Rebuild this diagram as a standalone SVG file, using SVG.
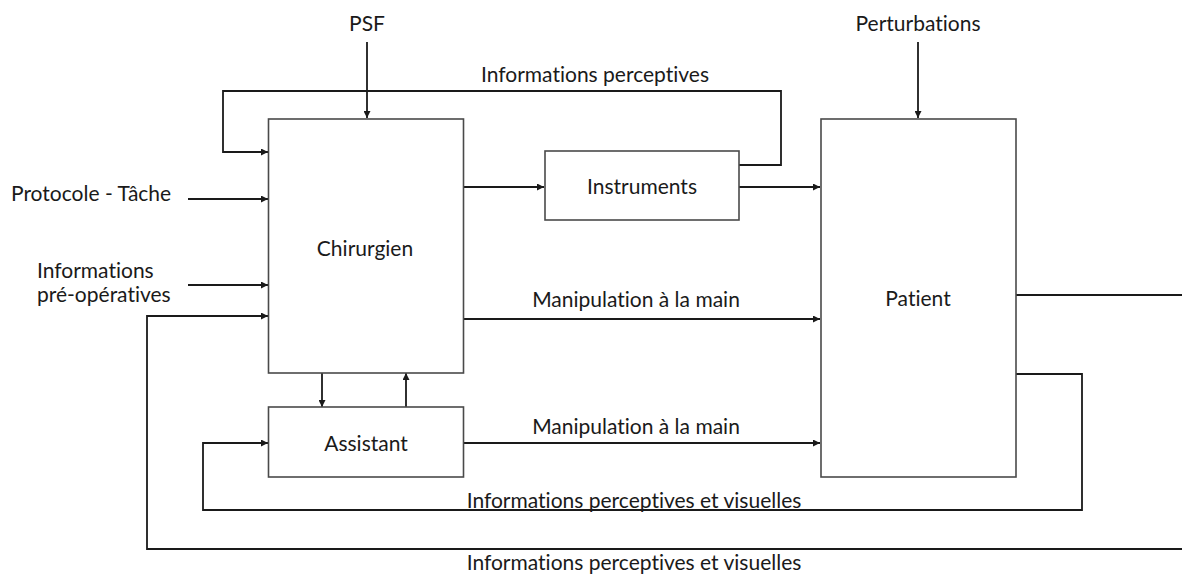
<svg xmlns="http://www.w3.org/2000/svg" width="1182" height="576" viewBox="0 0 1182 576">
  <style>
    .box { fill: #ffffff; stroke: #4a4a4a; stroke-width: 1.6; }
    .ln { fill: none; stroke: #1a1a1a; stroke-width: 1.8; }
    text { font-family: Lato, "Open Sans", sans-serif; font-size: 21px; fill: #1a1a1a; font-variant-ligatures: none; }
    .c { text-anchor: middle; }
  </style>
  <defs>
    <marker id="arr" viewBox="0 0 10 10" refX="10" refY="5" markerWidth="8" markerHeight="7" orient="auto" markerUnits="userSpaceOnUse">
      <path d="M0,0 L10,5 L0,10 Z" fill="#1a1a1a"/>
    </marker>
  </defs>

  <rect width="1182" height="576" fill="#ffffff"/>

  <g id="connectors">
    <!-- external inputs -->
    <line class="ln" x1="367" y1="42" x2="367" y2="118" marker-end="url(#arr)"/>
    <line class="ln" x1="918" y1="42" x2="918" y2="118" marker-end="url(#arr)"/>
    <line class="ln" x1="188" y1="199" x2="268" y2="199" marker-end="url(#arr)"/>
    <line class="ln" x1="188" y1="285" x2="268" y2="285" marker-end="url(#arr)"/>
    <!-- perceptive feedback from instruments -->
    <polyline class="ln" points="739,165 781,165 781,91 223,91 223,152 268,152" marker-end="url(#arr)"/>
    <!-- surgeon to instruments to patient -->
    <line class="ln" x1="463" y1="187" x2="544" y2="187" marker-end="url(#arr)"/>
    <line class="ln" x1="739" y1="187" x2="820" y2="187" marker-end="url(#arr)"/>
    <!-- manual manipulation -->
    <line class="ln" x1="463" y1="319" x2="820" y2="319" marker-end="url(#arr)"/>
    <line class="ln" x1="463" y1="443" x2="820" y2="443" marker-end="url(#arr)"/>
    <!-- surgeon / assistant exchange -->
    <line class="ln" x1="322" y1="373" x2="322" y2="407" marker-end="url(#arr)"/>
    <line class="ln" x1="406" y1="407" x2="406" y2="373" marker-end="url(#arr)"/>
    <!-- patient feedback loops -->
    <polyline class="ln" points="1016,374 1082,374 1082,510 203,510 203,443 268,443" marker-end="url(#arr)"/>
    <line class="ln" x1="1016" y1="295" x2="1182" y2="295"/>
    <polyline class="ln" points="1182,549 147,549 147,316 268,316" marker-end="url(#arr)"/>
  </g>

  <g id="chirurgien">
    <rect class="box" x="268.5" y="119" width="195" height="254"/>
    <text class="c" x="365" y="256">Chirurgien</text>
  </g>
  <g id="instruments">
    <rect class="box" x="545" y="151" width="194" height="69"/>
    <text class="c" x="642" y="194">Instruments</text>
  </g>
  <g id="assistant">
    <rect class="box" x="268.5" y="407" width="195" height="70"/>
    <text class="c" x="366" y="451">Assistant</text>
  </g>
  <g id="patient">
    <rect class="box" x="821" y="119" width="195" height="358"/>
    <text class="c" x="918" y="306">Patient</text>
  </g>

  <g id="labels">
    <text class="c" x="367" y="31">PSF</text>
    <text class="c" x="918" y="31">Perturbations</text>
    <text class="c" x="595" y="82">Informations perceptives</text>
    <text x="11" y="201">Protocole - Tâche</text>
    <text x="37" y="278">Informations</text>
    <text x="37" y="302">pré-opératives</text>
    <text class="c" x="636" y="307">Manipulation à la main</text>
    <text class="c" x="636" y="434">Manipulation à la main</text>
    <text class="c" x="634" y="508">Informations perceptives et visuelles</text>
    <text class="c" x="634" y="570">Informations perceptives et visuelles</text>
  </g>
</svg>
